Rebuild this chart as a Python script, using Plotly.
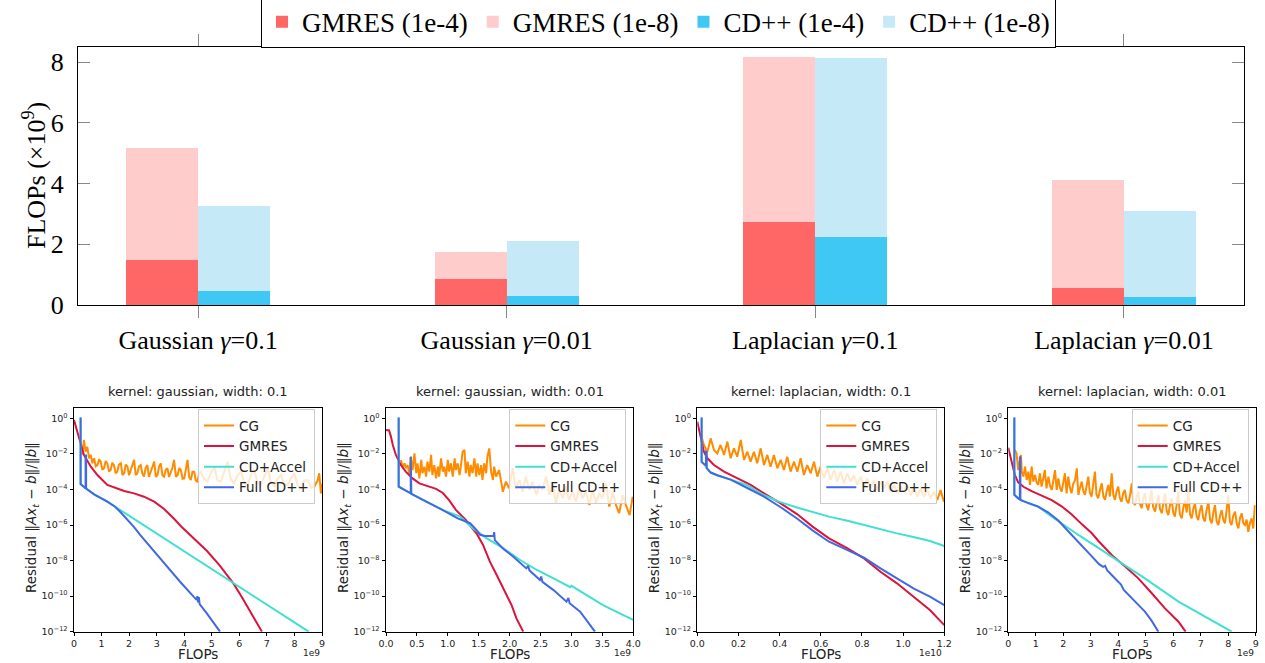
import plotly.graph_objects as go

W, H = 1265, 663

# ---------------- top bar chart data (FLOPs x1e9) ----------------
categories = ["Gaussian <i>γ</i>=0.1", "Gaussian <i>γ</i>=0.01",
              "Laplacian <i>γ</i>=0.1", "Laplacian <i>γ</i>=0.01"]
gmres_1e4 = [1.49, 0.86, 2.75, 0.57]
gmres_1e8 = [5.18, 1.74, 8.17, 4.13]
cdpp_1e4 = [0.47, 0.30, 2.24, 0.26]
cdpp_1e8 = [3.27, 2.11, 8.15, 3.11]

# ---------------- residual curves: (FLOPs in axis units, log10 residual) ----------------
# panel 1: gaussian, width 0.1 (x in 1e9)
P1_CG = [(0.30,-2.06),(0.36,-1.22),(0.42,-1.88),(0.48,-1.6),(0.55,-2.25),(0.61,-2.06),(0.67,-2.53),
         (0.73,-2.25),(0.79,-2.7),(0.85,-2.63),(0.91,-2.3),(0.97,-2.44),(1.03,-2.9),(1.09,-2.81),
         (1.15,-2.4),(1.21,-2.53),(1.27,-3.0),(1.33,-2.91),(1.39,-2.5),(1.45,-2.63),(1.51,-3.1),
         (1.57,-3.0),(1.63,-2.6),(1.70,-2.53),(1.76,-3.2),(1.82,-3.09),(1.88,-2.6),(1.94,-2.72),
         (2.00,-3.2),(2.06,-2.91),(2.12,-2.5),(2.18,-2.34),(2.24,-3.2),(2.30,-3.09),(2.36,-2.7),
         (2.42,-2.63),(2.48,-3.1),(2.54,-3.28),(2.60,-2.8),(2.66,-2.63),(2.72,-3.3),(2.79,-3.0),
         (2.85,-2.7),(2.91,-2.44),(2.97,-3.3),(3.03,-3.19),(3.09,-2.7),(3.15,-2.53),(3.21,-3.2),
         (3.27,-3.28),(3.33,-2.9),(3.39,-2.81),(3.45,-3.3),(3.51,-3.09),(3.57,-2.8),(3.63,-2.34),
         (3.70,-3.3),(3.76,-3.19),(3.82,-2.8),(3.88,-2.91),(3.94,-3.4),(4.00,-3.38),(4.06,-2.9),
         (4.12,-2.34),(4.18,-3.3),(4.24,-3.47),(4.30,-3.0),(4.36,-3.0),(4.42,-3.5),(4.48,-3.56),
         (4.54,-3.1),(4.60,-3.0),(4.72,-3.4),(4.84,-3.56),(4.96,-3.1),(5.09,-2.72),(5.21,-3.5),
         (5.33,-3.56),(5.45,-3.0),(5.57,-2.44),(5.69,-3.4),(5.81,-3.66),(5.93,-3.2),(6.06,-3.0),
         (6.18,-3.6),(6.30,-3.75),(6.42,-3.2),(6.54,-2.91),(6.66,-3.6),(6.78,-3.75),(6.90,-3.3),
         (7.03,-2.81),(7.15,-3.6),(7.27,-3.84),(7.39,-3.4),(7.51,-3.19),(7.63,-3.7),(7.75,-3.75),
         (7.87,-3.4),(7.99,-3.09),(8.12,-3.8),(8.24,-3.94),(8.36,-3.5),(8.48,-3.47),(8.60,-3.9),
         (8.72,-3.84),(8.84,-3.5),(8.90,-3.09),(8.96,-4.22),(9.00,-3.66)]
P1_GMRES = [(0.0,-0.1),(0.12,-0.75),(0.24,-1.5),(0.36,-2.06),(0.61,-2.72),(0.85,-3.19),(1.21,-3.75),
            (1.45,-3.9),(1.82,-4.09),(2.18,-4.22),(2.54,-4.41),(2.91,-4.69),(3.27,-5.1),(3.63,-5.65),
            (3.90,-6.1),(4.34,-6.75),(4.82,-7.45),(5.30,-8.3),(5.79,-9.3),(6.09,-10.05),(6.40,-10.9),
            (6.82,-12.0)]
P1_ACCEL = [(0.24,0.04),(0.24,-3.7),(0.39,-3.9),(0.73,-4.28),(1.21,-4.69),(1.49,-4.97),
            (3.0,-6.48),(5.0,-8.48),(7.0,-10.48),(8.52,-12.0)]
P1_FULL = [(0.24,0.04),(0.24,-3.7),(0.39,-3.9),(0.42,-3.85),(0.42,-2.06),(0.44,-2.1),(0.44,-3.95),
           (0.73,-4.28),(1.21,-4.69),(1.49,-4.97),(1.70,-5.3),(1.95,-5.72),(2.18,-6.12),(2.40,-6.56),
           (2.88,-7.45),(3.37,-8.34),(3.85,-9.19),(4.34,-10.03),(4.45,-10.2),(4.48,-10.0),
           (4.50,-10.35),(4.53,-10.05),(4.56,-10.45),(4.82,-10.97),(5.30,-12.0)]

# panel 2: gaussian, width 0.01 (x in 1e9)
P2_CG = [(0.24,-2.34),(0.27,-2.72),(0.30,-2.53),(0.32,-2.81),(0.35,-2.63),(0.38,-3.19),(0.40,-2.16),
         (0.43,-2.91),(0.46,-1.97),(0.49,-3.09),(0.51,-2.53),(0.54,-3.38),(0.57,-2.34),(0.59,-3.09),
         (0.62,-2.72),(0.65,-3.28),(0.67,-2.44),(0.70,-3.0),(0.73,-2.06),(0.75,-3.19),(0.78,-2.63),
         (0.81,-3.38),(0.84,-2.72),(0.86,-3.28),(0.89,-2.25),(0.92,-3.0),(0.94,-2.72),(0.97,-3.28),
         (1.00,-2.34),(1.02,-3.0),(1.05,-2.53),(1.08,-3.28),(1.11,-2.25),(1.13,-2.91),(1.16,-2.53),
         (1.19,-3.19),(1.21,-2.72),(1.24,-1.88),(1.27,-1.78),(1.29,-3.09),(1.32,-2.44),(1.35,-3.28),
         (1.37,-2.63),(1.40,-3.09),(1.43,-2.25),(1.46,-3.28),(1.48,-2.53),(1.51,-3.19),(1.54,-2.63),
         (1.56,-3.47),(1.59,-2.53),(1.62,-3.09),(1.64,-2.16),(1.67,-1.69),(1.70,-3.0),(1.73,-3.47),
         (1.75,-2.72),(1.78,-3.28),(1.83,-2.91),(1.89,-4.13),(1.94,-3.56),(1.99,-3.94),(2.05,-2.81),
         (2.10,-3.94),(2.16,-3.47),(2.21,-4.13),(2.26,-3.28),(2.32,-4.03),(2.37,-3.56),(2.43,-4.31),
         (2.48,-3.75),(2.53,-4.03),(2.59,-3.28),(2.64,-4.31),(2.70,-3.75),(2.75,-4.78),(2.80,-4.03),
         (2.86,-4.5),(2.91,-3.84),(2.96,-4.59),(3.02,-4.13),(3.07,-4.69),(3.13,-3.94),(3.18,-4.5),
         (3.23,-4.13),(3.29,-4.88),(3.34,-4.03),(3.40,-4.78),(3.45,-4.22),(3.50,-4.5),(3.56,-3.66),
         (3.61,-4.97),(3.67,-4.13),(3.72,-4.88),(3.77,-5.34),(3.83,-4.31),(3.88,-4.88),(3.94,-5.44),
         (3.99,-4.41)]
P2_GMRES = [(0.0,-0.66),(0.05,-0.68),(0.08,-1.03),(0.11,-1.5),(0.16,-2.06),(0.24,-2.63),(0.32,-3.0),
            (0.43,-3.38),(0.54,-3.66),(0.65,-3.79),(0.81,-3.97),(0.92,-4.2),(1.02,-4.6),(1.13,-5.15),
            (1.29,-5.72),(1.40,-6.2),(1.47,-6.5),(1.57,-7.12),(1.68,-8.06),(1.79,-8.81),(1.90,-9.56),
            (2.03,-10.5),(2.11,-11.25),(2.22,-12.0)]
P2_ACCEL = [(0.205,0.04),(0.205,-3.84),(0.40,-4.22),(0.65,-4.69),(0.92,-5.16),(1.20,-5.53),
            (1.41,-6.19),(1.63,-6.75),(1.90,-7.31),(2.17,-7.97),(2.44,-8.53),(2.71,-9.0),(2.98,-9.5),
            (3.00,-9.42),(3.25,-9.94),(3.51,-10.5),(3.78,-10.97),(4.00,-11.34)]
P2_FULL = [(0.205,0.04),(0.205,-3.84),(0.40,-4.22),(0.40,-2.16),(0.41,-2.2),(0.41,-4.25),
           (0.65,-4.69),(0.92,-5.16),(1.16,-5.63),(1.36,-5.9),(1.47,-6.3),(1.52,-6.55),(1.60,-6.62),
           (1.74,-6.62),(1.75,-6.4),(1.76,-6.85),(1.90,-7.35),(2.06,-7.78),(2.27,-8.44),(2.30,-8.3),
           (2.32,-8.55),(2.49,-9.09),(2.51,-8.9),(2.53,-9.2),(2.71,-9.66),(2.92,-10.31),(2.95,-10.1),
           (2.97,-10.4),(3.14,-10.87),(3.38,-12.0)]

# panel 3: laplacian, width 0.1 (x in 1e10)
P3_CG = [(0.016,-0.84),(0.032,-1.5),(0.049,-1.88),(0.065,-1.13),(0.081,-1.78),(0.097,-1.97),
         (0.113,-1.5),(0.130,-2.06),(0.146,-1.31),(0.162,-2.25),(0.178,-1.69),(0.194,-2.16),
         (0.211,-1.22),(0.227,-2.34),(0.243,-1.88),(0.259,-2.44),(0.275,-1.88),(0.291,-2.53),
         (0.308,-1.69),(0.324,-2.63),(0.340,-2.06),(0.356,-2.72),(0.372,-2.06),(0.389,-2.81),
         (0.405,-2.34),(0.421,-2.91),(0.437,-2.16),(0.453,-3.0),(0.470,-2.44),(0.486,-3.0),
         (0.502,-2.25),(0.518,-3.19),(0.534,-2.63),(0.551,-3.09),(0.567,-2.44),(0.583,-3.28),
         (0.599,-2.72),(0.615,-3.38),(0.632,-2.81),(0.648,-3.47),(0.664,-2.91),(0.680,-3.56),
         (0.696,-3.0),(0.713,-3.66),(0.729,-3.09),(0.745,-3.56),(0.761,-3.19),(0.777,-3.75),
         (0.794,-3.28),(0.810,-3.84),(0.826,-3.38),(0.842,-3.94),(0.858,-3.47),(0.874,-4.03),
         (0.891,-3.56),(0.907,-3.94),(0.923,-3.56),(0.939,-4.13),(0.955,-3.75),(0.972,-4.22),
         (0.988,-3.84),(1.004,-4.13),(1.020,-3.75),(1.036,-4.31),(1.053,-3.94),(1.069,-4.41),
         (1.085,-3.94),(1.101,-4.41),(1.117,-4.03),(1.134,-4.5),(1.150,-4.13),(1.166,-4.59),
         (1.182,-4.03),(1.198,-4.69)]
P3_GMRES = [(0.0,-0.19),(0.008,-0.66),(0.016,-1.13),(0.024,-1.5),(0.032,-1.88),(0.049,-2.25),
            (0.081,-2.63),(0.13,-3.0),(0.194,-3.38),(0.259,-3.75),(0.324,-4.22),(0.405,-4.78),
            (0.486,-5.4),(0.56,-6.09),(0.64,-6.75),(0.73,-7.31),(0.81,-7.88),(0.89,-8.63),
            (0.97,-9.28),(1.05,-10.03),(1.13,-10.78),(1.20,-11.63)]
P3_ACCEL = [(0.021,0.04),(0.021,-2.45),(0.035,-2.6),(0.046,-2.8),(0.065,-3.05),(0.097,-3.2),
            (0.162,-3.45),(0.24,-3.75),(0.32,-4.3),(0.40,-4.7),(0.48,-5.0),(0.56,-5.27),(0.64,-5.53),
            (0.73,-5.76),(0.81,-6.0),(0.89,-6.23),(0.97,-6.47),(1.05,-6.67),(1.13,-6.9),(1.20,-7.18)]
P3_FULL = [(0.021,0.04),(0.021,-2.45),(0.035,-2.6),(0.042,-2.65),(0.042,-1.88),(0.046,-1.9),
           (0.046,-2.8),(0.065,-3.05),(0.097,-3.2),(0.162,-3.45),(0.243,-3.92),(0.324,-4.41),
           (0.405,-5.0),(0.486,-5.65),(0.56,-6.3),(0.64,-6.94),(0.73,-7.41),(0.81,-7.84),
           (0.89,-8.44),(0.97,-9.0),(1.05,-9.56),(1.13,-10.03),(1.20,-10.5)]

# panel 4: laplacian, width 0.01 (x in 1e9)
P4_CG = [(0.24,-1.78),(0.30,-1.97),(0.36,-2.91),(0.46,-2.06),(0.49,-3.0),(0.55,-3.28),(0.61,-2.72),
         (0.67,-3.47),(0.73,-3.0),(0.79,-3.75),(0.85,-2.72),(0.91,-3.56),(0.97,-3.19),(1.03,-3.6),
         (1.09,-3.75),(1.15,-3.09),(1.21,-3.84),(1.27,-3.4),(1.33,-2.91),(1.39,-3.94),(1.46,-3.28),
         (1.52,-3.8),(1.58,-4.03),(1.64,-3.5),(1.70,-2.91),(1.76,-4.03),(1.82,-3.38),(1.88,-3.9),
         (1.94,-4.13),(2.00,-3.6),(2.06,-3.09),(2.12,-4.22),(2.18,-3.28),(2.24,-3.9),(2.30,-4.22),
         (2.36,-3.7),(2.43,-3.47),(2.49,-2.81),(2.55,-4.31),(2.61,-3.9),(2.67,-3.56),(2.73,-4.1),
         (2.79,-4.31),(2.85,-3.8),(2.91,-3.28),(2.97,-4.2),(3.03,-4.41),(3.09,-3.7),(3.15,-3.0),
         (3.21,-4.3),(3.27,-4.5),(3.34,-4.0),(3.40,-3.66),(3.46,-4.4),(3.52,-4.59),(3.58,-4.1),
         (3.64,-3.75),(3.70,-4.4),(3.76,-3.09),(3.82,-4.3),(3.88,-4.59),(3.94,-4.1),(4.00,-3.84),
         (4.06,-4.5),(4.12,-4.69),(4.18,-4.2),(4.24,-4.03),(4.30,-4.6),(4.37,-4.78),(4.43,-4.3),
         (4.49,-3.66),(4.55,-4.7),(4.61,-4.88),(4.67,-4.4),(4.73,-4.13),(4.79,-4.8),(4.85,-5.06),
         (4.91,-4.5),(4.97,-4.22),(5.03,-4.9),(5.09,-5.16),(5.15,-4.6),(5.21,-4.03),(5.27,-5.0),
         (5.34,-5.25),(5.40,-4.7),(5.46,-4.31),(5.52,-5.1),(5.58,-5.34),(5.64,-4.8),(5.70,-4.22),
         (5.76,-5.2),(5.82,-5.44),(5.88,-4.9),(5.94,-4.5),(6.00,-5.3),(6.06,-5.53),(6.12,-4.9),
         (6.18,-4.13),(6.24,-5.4),(6.31,-5.63),(6.37,-5.0),(6.43,-4.59),(6.49,-5.3),(6.55,-4.03),
         (6.61,-5.4),(6.67,-5.63),(6.73,-5.1),(6.79,-4.78),(6.85,-5.5),(6.91,-5.72),(6.97,-5.2),
         (7.03,-4.88),(7.09,-5.6),(7.15,-5.81),(7.21,-5.2),(7.28,-4.69),(7.34,-5.7),(7.40,-5.91),
         (7.46,-5.3),(7.52,-4.88),(7.58,-5.8),(7.64,-6.0),(7.70,-5.5),(7.76,-5.16),(7.82,-5.7),
         (7.88,-5.91),(7.94,-5.2),(8.00,-4.31),(8.06,-5.8),(8.12,-6.0),(8.18,-5.5),(8.25,-5.25),
         (8.31,-5.9),(8.37,-6.19),(8.43,-5.6),(8.49,-5.34),(8.55,-5.9),(8.61,-6.0),(8.67,-5.7),
         (8.73,-6.38),(8.79,-5.9),(8.85,-5.63),(8.91,-6.2),(8.97,-4.88)]
P4_GMRES = [(0.0,-1.65),(0.06,-2.06),(0.12,-2.4),(0.18,-2.85),(0.24,-3.2),(0.36,-3.6),(0.55,-3.85),
            (0.85,-4.1),(1.21,-4.35),(1.58,-4.6),(1.94,-4.95),(2.30,-5.4),(2.67,-5.95),(3.03,-6.45),
            (3.28,-6.9),(3.76,-7.69),(4.25,-8.34),(4.73,-9.0),(5.22,-9.84),(5.70,-10.69),
            (6.19,-11.44),(6.45,-12.0)]
P4_ACCEL = [(0.22,0.04),(0.22,-4.3),(0.36,-4.5),(0.73,-4.78),(1.09,-4.97),(1.58,-5.53),
            (2.55,-6.56),(3.76,-7.78),(4.97,-9.0),(6.19,-10.31),(7.40,-11.34),(8.13,-12.0)]
P4_FULL = [(0.22,0.04),(0.22,-4.3),(0.36,-4.5),(0.42,-4.55),(0.42,-2.16),(0.44,-2.2),(0.44,-4.6),
           (0.73,-4.78),(1.09,-4.97),(1.46,-5.3),(1.82,-5.75),(2.18,-6.35),(2.55,-6.94),
           (3.03,-7.75),(3.30,-8.2),(3.45,-8.35),(3.52,-8.3),(3.60,-8.55),(3.85,-8.95),(4.00,-9.2),
           (4.10,-9.35),(4.20,-9.65),(4.49,-10.12),(4.70,-10.45),(4.97,-10.87),(5.20,-11.35),
           (5.46,-12.0)]

panel_titles = ["kernel: gaussian, width: 0.1", "kernel: gaussian, width: 0.01",
                "kernel: laplacian, width: 0.1", "kernel: laplacian, width: 0.01"]
panel_xmax = [9, 4, 1.2, 9]
panel_dtick = [1, 0.5, 0.2, 1]
panel_tickformat = ["d", ".1f", ".1f", "d"]
panel_offset_text = ["1e9", "1e9", "1e10", "1e9"]
series_names = ["CG", "GMRES", "CD+Accel", "Full CD++"]
series_colors = ["#FF8C00", "#DC143C", "#40E0D0", "#4169E1"]
panel_data = [
    [P1_CG, P1_GMRES, P1_ACCEL, P1_FULL],
    [P2_CG, P2_GMRES, P2_ACCEL, P2_FULL],
    [P3_CG, P3_GMRES, P3_ACCEL, P3_FULL],
    [P4_CG, P4_GMRES, P4_ACCEL, P4_FULL],
]
ytick_exp = [0, -2, -4, -6, -8, -10, -12]

# ---------------- layout geometry (pixels) ----------------
def xp(px):
    return px / W

def yp(py):
    return 1 - py / H

SERIF = "Liberation Serif"
SANS = "DejaVu Sans"

fig = go.Figure()

# bars: light (1e-8) first, dark (1e-4) on top
bw = 0.233
bar_specs = [
    ("GMRES (1e-8)", gmres_1e8, "#FFCCCC", -bw, 2),
    ("CD++ (1e-8)", cdpp_1e8, "#C6E9F8", 0.0, 4),
    ("GMRES (1e-4)", gmres_1e4, "#FF6666", -bw, 1),
    ("CD++ (1e-4)", cdpp_1e4, "#40C8F4", 0.0, 3),
]
for name, vals, col, off, rank in bar_specs:
    fig.add_trace(go.Bar(
        x=list(range(len(categories))), y=vals, name=name, width=bw, offset=off,
        marker=dict(color=col, line=dict(width=0)), legendrank=rank,
        xaxis="x", yaxis="y", legend="legend",
    ))

panel_px = [(74, 322), (386, 633.3), (697.3, 944.3), (1008.3, 1255.7)]
ptop, pbot = 408.3, 631.7

for i in range(4):
    ax = str(i + 2)
    for s in range(4):
        pts = panel_data[i][s]
        fig.add_trace(go.Scatter(
            x=[p[0] for p in pts], y=[10 ** p[1] for p in pts],
            mode="lines", name=series_names[s],
            line=dict(color=series_colors[s], width=2),
            xaxis="x" + ax, yaxis="y" + ax, legend="legend" + ax,
        ))

layout = dict(
    width=W, height=H,
    margin=dict(l=0, r=0, t=0, b=0, autoexpand=False),
    paper_bgcolor="white", plot_bgcolor="white",
    barmode="overlay", bargap=0,
    showlegend=True,
    xaxis=dict(
        domain=[xp(78), xp(1244)], anchor="y", range=[-0.389, 3.389],
        tickvals=list(range(len(categories))), ticktext=categories,
        ticks="outside", ticklen=12, tickcolor="#888888", tickwidth=1,
        showline=True, linecolor="black", linewidth=1.2, mirror="ticks",
        showgrid=False, zeroline=False, automargin=False,
        tickfont=dict(family=SERIF, size=26, color="black"),
    ),
    yaxis=dict(
        domain=[yp(305), yp(47)], anchor="x", range=[0, 8.5],
        tickvals=[0, 2, 4, 6, 8],
        ticks="inside", ticklen=12, tickcolor="#888888", tickwidth=1,
        showline=True, linecolor="black", linewidth=1.2, mirror="ticks",
        showgrid=False, zeroline=False, automargin=False,
        tickfont=dict(family=SERIF, size=26, color="black"),
        ticklabelstandoff=8,
    ),
    legend=dict(
        orientation="h", x=xp(658.5), xanchor="center", y=1.005, yanchor="top",
        font=dict(family=SERIF, size=27, color="black"),
        bordercolor="black", borderwidth=1, bgcolor="white",
        itemwidth=30, traceorder="normal",
    ),
)

annotations = [
    dict(text="FLOPs (×10<sup>9</sup>)", x=xp(35), y=yp(176), xref="paper", yref="paper",
         showarrow=False, textangle=-90, font=dict(family=SERIF, size=26, color="black"),
         xanchor="center", yanchor="middle"),
]

for i in range(4):
    ax = str(i + 2)
    x0, x1 = panel_px[i]
    layout["xaxis" + ax] = dict(
        domain=[xp(x0), xp(x1)], anchor="y" + ax, range=[0, panel_xmax[i]],
        dtick=panel_dtick[i], tick0=0, tickformat=panel_tickformat[i],
        ticks="outside", ticklen=3, tickwidth=0.8, tickcolor="black",
        showline=True, linecolor="black", linewidth=1, mirror=True,
        showgrid=False, zeroline=False, automargin=False,
        tickfont=dict(family=SANS, size=9.5, color="#222222"),
    )
    layout["yaxis" + ax] = dict(
        domain=[yp(pbot), yp(ptop)], anchor="x" + ax, type="log", range=[-12, 0.562],
        tickvals=[10 ** e for e in ytick_exp],
        ticktext=["10<sup>%s</sup>" % (str(e).replace("-", "−")) for e in ytick_exp],
        ticks="outside", ticklen=3.5, tickwidth=0.8, tickcolor="black",
        showline=True, linecolor="black", linewidth=1, mirror=True,
        showgrid=False, zeroline=False, automargin=False,
        tickfont=dict(family=SANS, size=9.5, color="#222222"),
    )
    layout["legend" + ax] = dict(
        x=xp(x1 - 7), xanchor="right", y=yp(ptop + 1), yanchor="top",
        font=dict(family=SANS, size=13.5, color="#222222"),
        bgcolor="rgba(255,255,255,0.8)", bordercolor="#cccccc", borderwidth=1,
        traceorder="normal", itemwidth=30,
    )
    cx = (x0 + x1) / 2
    annotations += [
        dict(text=panel_titles[i], x=xp(cx), y=yp(391), xref="paper", yref="paper",
             showarrow=False, font=dict(family=SANS, size=13, color="#222222"),
             xanchor="center", yanchor="middle"),
        dict(text="FLOPs", x=xp(cx), y=0, xref="paper", yref="paper",
             showarrow=False, font=dict(family=SANS, size=13.5, color="#222222"),
             xanchor="center", yanchor="bottom", borderpad=0),
        dict(text=panel_offset_text[i], x=xp(x1), y=yp(653), xref="paper", yref="paper",
             showarrow=False, font=dict(family=SANS, size=9, color="#222222"),
             xanchor="right", yanchor="middle"),
        dict(text="Residual ‖<i>Ax</i><sub><i>t</i></sub> − <i>b</i>‖/‖<i>b</i>‖",
             x=xp(x0 - 42), y=yp(518), xref="paper", yref="paper",
             showarrow=False, textangle=-90, font=dict(family=SANS, size=13.5, color="#222222"),
             xanchor="center", yanchor="middle"),
    ]

layout["annotations"] = annotations
fig.update_layout(**layout)
fig.write_html("out.html")
